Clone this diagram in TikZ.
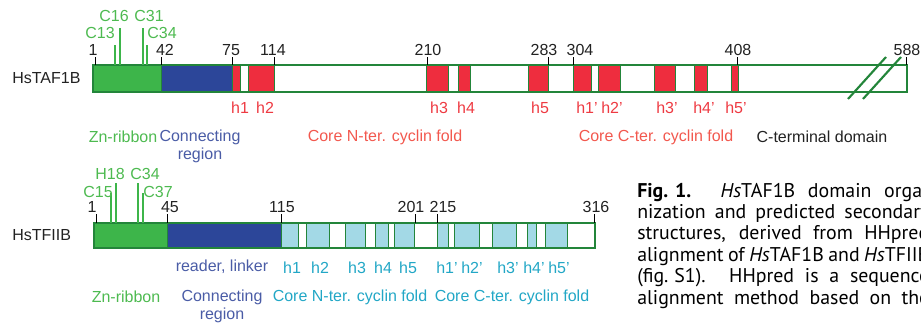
\documentclass[tikz,border=0pt]{standalone}
\usepackage{fontspec}
\setmainfont{Liberation Sans}
\newfontfamily\capfont{PT Sans}
\definecolor{dkgreen}{HTML}{23853A}
\definecolor{zngreen}{HTML}{3DB54A}
\definecolor{txgreen}{HTML}{4DBA50}
\definecolor{conblue}{HTML}{2C4699}
\definecolor{txblue}{HTML}{4A5CA6}
\definecolor{hred}{HTML}{EE2D3E}
\definecolor{txred}{HTML}{EE3A42}
\definecolor{txsalmon}{HTML}{F2584E}
\definecolor{lblue}{HTML}{A3D9E6}
\definecolor{txcyan}{HTML}{22A7C6}
\definecolor{txblack}{HTML}{222222}
\newcommand\segbox[5]{\fill[#3] (#1,#4) rectangle (#2,#5); \draw[dkgreen,line width=0.5pt] (#1,#4) rectangle (#2,#5);}
\begin{document}
\begin{tikzpicture}[x=0.75pt,y=-0.75pt,
  lab/.style={inner sep=0pt,font=\fontsize{12}{13.5}\selectfont},
  numlab/.style={lab,text=txblack},
  tick/.style={black,line width=0.6pt},
  resline/.style={zngreen,line width=1.4pt},
  outline/.style={dkgreen,line width=1.6pt},
  capline/.style={inner sep=0pt,anchor=base west,font=\capfont\fontsize{14.9}{17}\selectfont,text=black}]
\useasboundingbox (0,0) rectangle (921,322);
\clip (0,0) rectangle (921,322);
% ---------------- HsTAF1B ----------------
\node[lab,text=txblack,anchor=west] (taf) at (12,78) {HsTAF1B};
\segbox{93}{161}{zngreen}{65}{92}
\segbox{161}{232}{conblue}{65}{92}
\segbox{232}{240}{hred}{65}{92}
\segbox{240}{248}{white}{65}{92}
\segbox{248}{274}{hred}{65}{92}
\segbox{274}{426}{white}{65}{92}
\segbox{426}{448}{hred}{65}{92}
\segbox{448}{458}{white}{65}{92}
\segbox{458}{470}{hred}{65}{92}
\segbox{470}{528}{white}{65}{92}
\segbox{528}{548}{hred}{65}{92}
\segbox{548}{573}{white}{65}{92}
\segbox{573}{591}{hred}{65}{92}
\segbox{591}{598}{white}{65}{92}
\segbox{598}{620}{hred}{65}{92}
\segbox{620}{654}{white}{65}{92}
\segbox{654}{675}{hred}{65}{92}
\segbox{675}{694}{white}{65}{92}
\segbox{694}{707}{hred}{65}{92}
\segbox{707}{731}{white}{65}{92}
\segbox{731}{738}{hred}{65}{92}
\segbox{738}{907}{white}{65}{92}
\draw[outline] (93,65) rectangle (907,92);
% break marks
\draw[dkgreen,line width=1.6pt] (848,99) -- (886,57);
\draw[dkgreen,line width=1.6pt] (863,99) -- (901,57);
% ticks
\foreach \x in {95,161,232,274,427,548,573,737,906} \draw[tick] (\x,57) -- (\x,65);
\node[numlab] (t1) at (93,50) {1};
\node[numlab] (t42) at (165,50) {42};
\node[numlab] (t75) at (231,50) {75};
\node[numlab] (t114) at (273,50) {114};
\node[numlab] (t210) at (428,50) {210};
\node[numlab] (t283) at (544,50) {283};
\node[numlab] (t304) at (580,50) {304};
\node[numlab] (t408) at (738,50) {408};
\node[numlab] (t588) at (907,50) {588};
% residues
\draw[resline] (115,45) -- (115,65);
\draw[resline] (120,28) -- (120,65);
\draw[resline] (143,28) -- (143,65);
\draw[resline] (147,45) -- (147,65);
\node[lab,text=txgreen] (c13) at (100,33) {C13};
\node[lab,text=txgreen] (c16) at (114,16) {C16};
\node[lab,text=txgreen] (c31) at (149,16) {C31};
\node[lab,text=txgreen] (c34) at (162,33) {C34};
% helix labels
\foreach \x/\t in {240/h1,265/h2,439/h3,466/h4,540/h5,587/h1’,612/h2’,667/h3’,704/h4’,736/h5’}
  \node[lab,text=txred] at (\x,108) {\t};
% domain labels
\node[lab,text=txgreen] (zn1) at (123,137) {Zn-ribbon};
\node[lab,text=txblue,align=center] (con1) at (200,146) {Connecting\\region};
\node[lab,text=txsalmon] (cn1) at (385,137) {Core N-ter. cyclin fold};
\node[lab,text=txsalmon] (cc1) at (656,137) {Core C-ter. cyclin fold};
\node[lab,text=txblack] (ct1) at (822,137) {C-terminal domain};
% ---------------- HsTFIIB ----------------
\node[lab,text=txblack,anchor=west] (tf) at (12,235) {HsTFIIB};
\segbox{94}{167}{zngreen}{223}{248}
\segbox{167}{281}{conblue}{223}{248}
\segbox{281}{298}{lblue}{223}{248}
\segbox{298}{306}{white}{223}{248}
\segbox{306}{329}{lblue}{223}{248}
\segbox{329}{345}{white}{223}{248}
\segbox{345}{365}{lblue}{223}{248}
\segbox{365}{375}{white}{223}{248}
\segbox{375}{388}{lblue}{223}{248}
\segbox{388}{394}{white}{223}{248}
\segbox{394}{414}{lblue}{223}{248}
\segbox{414}{437}{white}{223}{248}
\segbox{437}{448}{lblue}{223}{248}
\segbox{448}{454}{white}{223}{248}
\segbox{454}{479}{lblue}{223}{248}
\segbox{479}{492}{white}{223}{248}
\segbox{492}{516}{lblue}{223}{248}
\segbox{516}{527}{white}{223}{248}
\segbox{527}{536}{lblue}{223}{248}
\segbox{536}{545}{white}{223}{248}
\segbox{545}{567}{lblue}{223}{248}
\segbox{567}{595}{white}{223}{248}
\draw[outline] (94,223) rectangle (595,248);
\foreach \x in {96,167,281,415,437,594} \draw[tick] (\x,214) -- (\x,223);
\node[numlab] (u1) at (92,207) {1};
\node[numlab] (u45) at (170,207) {45};
\node[numlab] (u115) at (282,207) {115};
\node[numlab] (u201) at (411,207) {201};
\node[numlab] (u215) at (443,207) {215};
\node[numlab] (u316) at (596,207) {316};
\draw[resline] (111,193) -- (111,223);
\draw[resline] (116,183) -- (116,223);
\draw[resline] (138,183) -- (138,223);
\draw[resline] (143,193) -- (143,223);
\node[lab,text=txgreen] (c15) at (98,192) {C15};
\node[lab,text=txgreen] (h18) at (110,174) {H18};
\node[lab,text=txgreen] (c34b) at (145,174) {C34};
\node[lab,text=txgreen] (c37) at (158,192) {C37};
\node[lab,text=txblue] (rl) at (222,267) {reader, linker};
\foreach \x/\t in {292/h1,320/h2,357/h3,383/h4,408/h5,447/h1’,472/h2’,508/h3’,534/h4’,559/h5’}
  \node[lab,text=txcyan] at (\x,268) {\t};
\node[lab,text=txgreen] (zn2) at (126,297) {Zn-ribbon};
\node[lab,text=txblue,align=center] (con2) at (222,306) {Connecting\\region};
\node[lab,text=txcyan] (cn2) at (350,297) {Core N-ter. cyclin fold};
\node[lab,text=txcyan] (cc2) at (512,297) {Core C-ter. cyclin fold};
% ---------------- caption ----------------
\node[capline] (cap1) at (637,197) {\makebox[219pt][s]{\textbf{Fig.\hspace{0.35em}1.} \textit{Hs}TAF1B domain orga-}};
\node[capline] (cap2) at (637,218) {\makebox[219pt][s]{nization and predicted secondary}};
\node[capline] (cap3) at (637,239) {\makebox[219pt][s]{structures, derived from HHpred}};
\node[capline] (cap4) at (637,261) {\makebox[219pt][s]{alignment of \textit{Hs}TAF1B and \textit{Hs}TFIIB}};
\node[capline] (cap5) at (637,282) {\makebox[219pt][s]{(fig.\hspace{0.3em}S1). HHpred is a sequence}};
\node[capline] (cap6) at (637,304) {\makebox[219pt][s]{alignment method based on the}};
\end{tikzpicture}
\end{document}
